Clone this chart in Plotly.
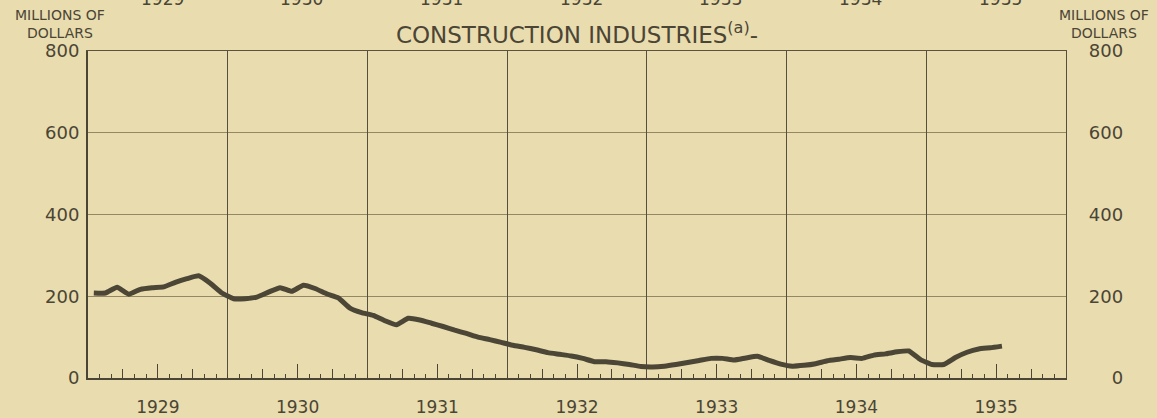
import plotly.graph_objects as go

# ---- data (millions of dollars, monthly, Jan 1929 .. Jul 1935) ----
years = ["1929", "1930", "1931", "1932", "1933", "1934", "1935"]
values = [
    208, 208, 222, 205, 217, 221, 223, 234, 243, 250, 232, 208,   # 1929
    194, 194, 198, 210, 221, 212, 227, 219, 206, 196, 171, 160,   # 1930
    153, 140, 130, 146, 142, 134, 126, 117, 109, 100, 94, 87,     # 1931
    80, 75, 69, 62, 58, 54, 48, 40, 40, 37, 33, 28,               # 1932
    27, 29, 33, 38, 43, 48, 48, 44, 49, 53, 43, 34,               # 1933
    29, 31, 35, 42, 46, 50, 48, 56, 59, 64, 66, 45,               # 1934
    33, 33, 50, 63, 71, 74, 78,                                   # 1935
]
y_ticks = [0, 200, 400, 600, 800]
title_text = "CONSTRUCTION INDUSTRIES<sup>(a)</sup>-"
unit_label = "MILLIONS OF<br>DOLLARS"

first_year = int(years[0])
n_years = len(years)
months_x = [first_year + (i + 0.5) / 12 for i in range(len(values))]
mid_year = [first_year + k + 0.5 for k in range(n_years)]
quarters = [first_year + k + q for k in range(n_years) for q in (0.25, 0.75)]
year_edges = [first_year + k for k in range(n_years + 1)]
x_range = [first_year, first_year + n_years]

BG = "#E9DCAE"
INK = "#4A4535"
FONT = "DejaVu Sans"
L, R, T, B = 88, 91, 51, 40
PW, PH = 1157 - L - R, 418 - T - B

fig = go.Figure()
fig.add_trace(go.Scatter(
    x=months_x, y=values, mode="lines",
    line=dict(color="#4B4636", width=5, shape="spline", smoothing=0.4),
    hoverinfo="skip", showlegend=False,
))
# invisible helpers so overlay axes are drawn
for xa, ya in (("x2", "y"), ("x3", "y"), ("x", "y2")):
    fig.add_trace(go.Scatter(x=months_x, y=values, mode="lines", xaxis=xa, yaxis=ya,
                             line=dict(width=0), opacity=0, hoverinfo="skip",
                             showlegend=False))

fig.update_layout(
    width=1157, height=418,
    margin=dict(l=L, r=R, t=T, b=B, autoexpand=False),
    paper_bgcolor=BG, plot_bgcolor=BG,
    font=dict(family=FONT, color=INK, size=17),
    title=dict(text=title_text, x=0.5, xanchor="center", y=1 - 35 / 418,
               yanchor="middle", xref="paper",
               font=dict(family=FONT, size=23, color=INK)),
    xaxis=dict(
        range=x_range, tickvals=mid_year, ticktext=years,
        ticks="inside", ticklen=14, tickwidth=1.3, tickcolor=INK,
        showgrid=False, zeroline=False, automargin=False,
        showline=True, linecolor=INK, linewidth=2,
        ticklabelstandoff=13,
        tickfont=dict(size=17, color=INK),
        minor=dict(tick0=first_year, dtick=1 / 12, ticks="inside", ticklen=4,
                   tickwidth=1.2, tickcolor=INK, showgrid=False),
    ),
    xaxis2=dict(
        overlaying="x", anchor="y", range=x_range, tickvals=quarters,
        ticks="inside", ticklen=9, tickwidth=1.2, tickcolor=INK, automargin=False,
        showticklabels=False, showgrid=False, zeroline=False, showline=False,
    ),
    xaxis3=dict(
        overlaying="x", anchor="y", side="top", range=x_range, tickvals=year_edges,
        ticks="", showticklabels=False, showgrid=True, gridcolor="#55503d",
        gridwidth=1.3, zeroline=False, automargin=False,
        showline=True, linecolor="#5a533f", linewidth=1.2,
    ),
    yaxis=dict(
        range=[0, 800], tickvals=y_ticks, ticks="", automargin=False,
        showgrid=True, gridcolor="rgba(110,100,70,0.7)", gridwidth=1,
        zeroline=False, showline=True, linecolor=INK, linewidth=2,
        ticklabelstandoff=3, tickfont=dict(size=18, color=INK),
    ),
    yaxis2=dict(
        overlaying="y", side="right", anchor="x", range=[0, 800],
        tickvals=y_ticks, automargin=False,
        ticktext=[("\u2007" * (3 - len(str(v)))) + str(v) for v in y_ticks],
        ticks="", showgrid=False, zeroline=False,
        showline=True, linecolor="#55503d", linewidth=1.3,
        ticklabelstandoff=18, tickfont=dict(size=18, color=INK),
    ),
)

# unit labels
fig.add_annotation(text=unit_label, xref="paper", yref="paper",
                   x=(60 - L) / PW, y=1 + 27 / PH, xanchor="center",
                   yanchor="middle", showarrow=False, align="center",
                   font=dict(family=FONT, size=14, color=INK))
fig.add_annotation(text=unit_label, xref="paper", yref="paper",
                   x=1 + (1104 - (L + PW)) / PW, y=1 + 27 / PH, xanchor="center",
                   yanchor="middle", showarrow=False, align="center",
                   font=dict(family=FONT, size=14, color=INK))
# cut-off year labels of the chart above (top edge)
for xv, yr in zip(mid_year, years):
    fig.add_annotation(text=yr, x=xv + 0.03, xref="x", yref="paper", y=1 + (T + 1) / PH,
                       yanchor="middle", showarrow=False,
                       font=dict(family=FONT, size=17, color=INK))

fig.write_html("out.html", config={"displayModeBar": False},
               post_script="document.body.style.margin='0';")
